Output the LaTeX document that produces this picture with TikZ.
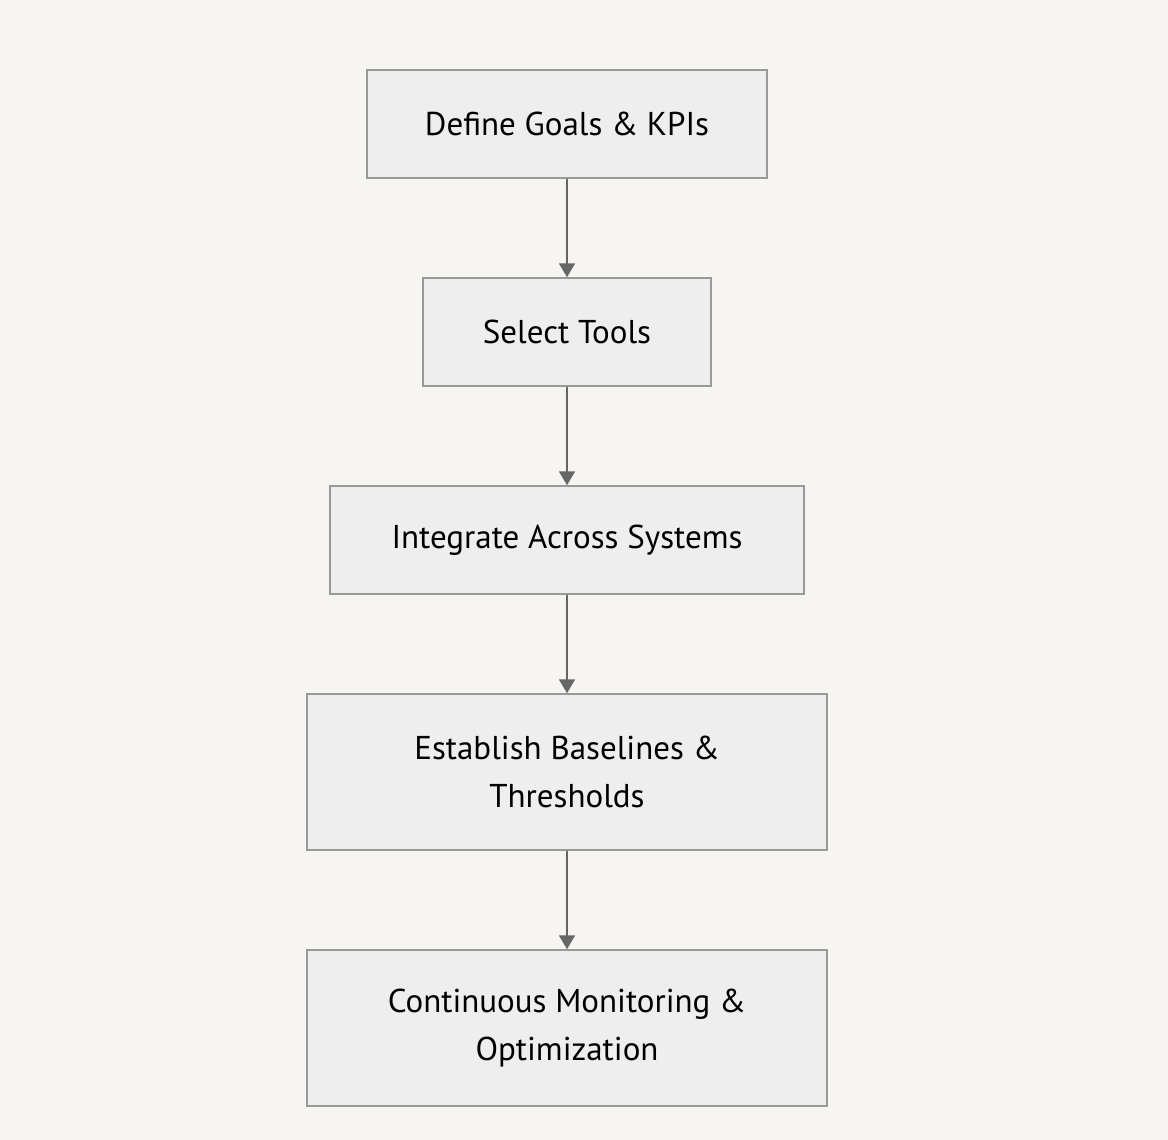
\documentclass[tikz,border=0pt]{standalone}
\usepackage{fontspec}
\setmainfont{PT Sans}
\usepackage{xcolor}
\usetikzlibrary{arrows.meta, positioning}
\definecolor{bgpaper}{HTML}{F6F5F1}
\definecolor{boxfill}{HTML}{EEEEEE}
\definecolor{boxline}{HTML}{999999}
\definecolor{arrowgrey}{HTML}{666666}

\begin{document}
\begin{tikzpicture}[x=1pt, y=-1pt,
  stepbox/.style={draw=boxline, line width=1.5pt, fill=boxfill, align=center,
    text=black, font=\fontsize{33}{48}\selectfont, inner sep=0pt},
  flow/.style={draw=arrowgrey, line width=1.8pt, -{Triangle[length=14pt, width=16pt]}}]
% Background
\fill[bgpaper] (0,0) rectangle (1168,1140);
\useasboundingbox (0,0) rectangle (1168,1140);
% Steps
\node[stepbox, minimum width=400pt, minimum height=108pt] (goals) at (567,124) {Define Goals \& KPIs};
\node[stepbox, minimum width=288pt, minimum height=108pt] (tools) at (567,332) {Select Tools};
\node[stepbox, minimum width=474pt, minimum height=108pt] (integrate) at (567,540) {Integrate Across Systems};
\node[stepbox, minimum width=520pt, minimum height=156pt] (baselines) at (567,772) {Establish Baselines \&\\Thresholds};
\node[stepbox, minimum width=520pt, minimum height=156pt] (monitor) at (567,1028) {Continuous Monitoring \&\\Optimization};
% Arrows
\draw[flow] (goals) -- (tools);
\draw[flow] (tools) -- (integrate);
\draw[flow] (integrate) -- (baselines);
\draw[flow] (baselines) -- (monitor);
\end{tikzpicture}
\end{document}
